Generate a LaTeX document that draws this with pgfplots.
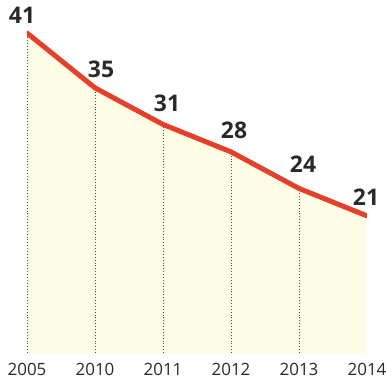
\documentclass[border=0pt]{standalone}
\usepackage{pgfplots}
\pgfplotsset{compat=1.18}
\usepackage{fontspec}
\setmainfont{Open Sans}
\definecolor{fillyellow}{HTML}{FCFDE4}
\definecolor{linered}{HTML}{E4402A}
\definecolor{labelgray}{HTML}{2A2A2A}
\begin{document}
\begin{tikzpicture}
\useasboundingbox (-27bp,-29bp) rectangle (359bp,353bp);
\begin{axis}[
  at={(0,0)}, anchor=south west,
  scale only axis,
  width=340bp, height=352bp,
  xmin=0, xmax=5,
  ymin=6, ymax=44.5,
  axis line style={draw=none},
  major tick length=0pt,
  ytick=\empty,
  xtick={0,1,2,3,4,5},
  xticklabels={2005,2010,2011,2012,2013,2014},
  xticklabel style={font=\fontsize{17}{20}\selectfont, text=labelgray, inner sep=0pt, anchor=north, yshift=-10bp},
  /pgf/number format/assume math mode=true,
  clip=true,
]
\addplot[fill=fillyellow, draw=none] table[x=x, y=y] {
x y
0 41
1 35
2 31
3 28
4 24
5 21
} \closedcycle;
\addplot[ycomb, draw=black!70, line width=0.9pt, dotted, mark=none] table[x=x, y=y] {
x y
0 41
1 35
2 31
3 28
4 24
5 21
};
\addplot[
  draw=linered, line width=5bp, line cap=round, line join=round, mark=none,
  visualization depends on={value \thisrow{dx} \as \dx},
  visualization depends on={value \thisrow{dy} \as \dy},
  nodes near coords={\pgfmathprintnumber[assume math mode=true]{\pgfplotspointmeta}},
  every node near coord/.append style={
    font=\bfseries\fontsize{23}{26}\selectfont, text=labelgray,
    inner sep=0pt, anchor=south, xshift=\dx bp, yshift=\dy bp},
] table[x=x, y=y] {
x y dx dy
0 41 -5 7
1 35 6 8
2 31 4 10
3 28 3 11
4 24 4 13
5 21 -1 8
};
\end{axis}
\end{tikzpicture}
\end{document}
